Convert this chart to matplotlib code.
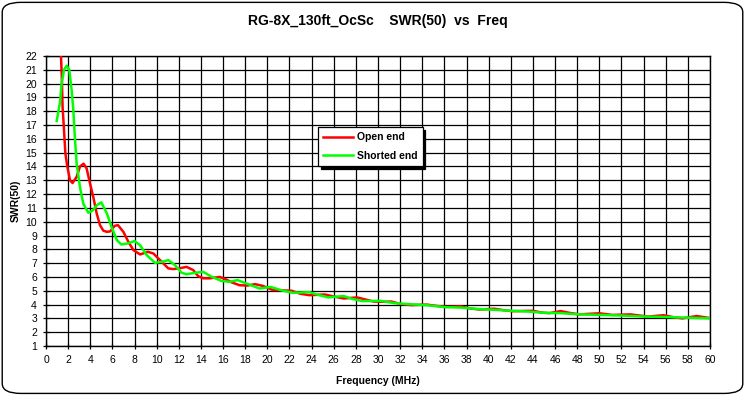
import numpy as np
import matplotlib
matplotlib.use("Agg")
import matplotlib.pyplot as plt
from matplotlib.patches import FancyBboxPatch

plt.rcParams['font.family'] = ['Liberation Sans', 'DejaVu Sans']

# Open end (red)
open_f = [1.3, 1.42, 1.5, 1.63, 1.75, 1.93, 2.17, 2.4, 2.77, 3.07, 3.4, 3.67, 3.97, 4.27,
          4.58, 4.88, 5.18, 5.5, 5.8, 6.2, 6.5, 6.99, 7.44, 7.89, 8.5, 9.2, 9.7, 10.45,
          11.05, 11.5, 12.0, 12.7, 13.3, 13.75, 14.2, 14.8, 15.7, 16.2, 16.8, 17.5, 18.2,
          18.9, 19.6, 20.5, 21.1, 22.2, 23.0, 23.8, 25.2, 25.9, 26.9, 28.1, 28.8, 29.6,
          30.5, 31.2, 32.0, 33.0, 34.4, 35.3, 36.2, 37.5, 38.3, 39.2, 40.5, 41.3, 42.1,
          44.0, 44.8, 45.5, 46.5, 47.3, 48.2, 50.0, 51.2, 52.8, 54.4, 55.8, 56.6, 57.5,
          58.8, 60.0]
open_swr = [23.0, 20.7, 18.3, 16.6, 14.95, 13.98, 13.0, 12.8, 13.25, 14.0, 14.2, 13.86, 12.8, 11.8,
            10.6, 9.75, 9.35, 9.27, 9.3, 9.7, 9.75, 9.27, 8.55, 7.95, 7.63, 7.82, 7.7, 7.1,
            6.62, 6.57, 6.62, 6.73, 6.5, 6.06, 5.9, 5.9, 6.0, 5.85, 5.6, 5.4, 5.38,
            5.48, 5.35, 5.05, 5.04, 5.0, 4.78, 4.68, 4.73, 4.6, 4.44, 4.52, 4.38, 4.22,
            4.2, 4.22, 4.05, 3.96, 4.0, 3.9, 3.83, 3.87, 3.72, 3.64, 3.7, 3.6, 3.52,
            3.55, 3.42, 3.38, 3.53, 3.4, 3.29, 3.37, 3.25, 3.29, 3.13, 3.23, 3.1, 3.0,
            3.17, 3.02]

# Shorted end (green)
short_f = [0.97, 1.1, 1.26, 1.41, 1.63, 1.87, 2.1, 2.32, 2.47, 2.6, 2.77, 3.07, 3.37, 3.82,
           4.2, 4.6, 5.0, 5.5, 5.93, 6.4, 6.8, 7.4, 8.0, 8.5, 9.1, 9.85, 10.5, 11.05,
           11.65, 12.26, 12.7, 13.5, 14.2, 15.0, 15.9, 16.6, 17.3, 18.2, 19.3, 20.3,
           21.2, 22.3, 23.8, 24.6, 25.5, 26.9, 27.7, 28.6, 30.2, 31.5, 33.0, 34.5, 36.0,
           37.5, 39.0, 40.5, 42.0, 43.5, 45.0, 46.5, 48.0, 50.0, 51.5, 53.0, 54.5, 56.0,
           58.0, 60.0]
short_swr = [17.3, 17.9, 18.6, 20.0, 21.0, 21.3, 21.0, 19.5, 18.1, 16.2, 14.2, 12.5, 11.3, 10.65,
             10.8, 11.2, 11.4, 10.6, 9.6, 8.67, 8.35, 8.43, 8.6, 8.3, 7.58, 7.02, 7.1, 7.22,
             6.86, 6.3, 6.2, 6.3, 6.37, 6.0, 5.7, 5.65, 5.77, 5.5, 5.16, 5.28,
             5.05, 4.85, 4.9, 4.7, 4.52, 4.62, 4.4, 4.25, 4.27, 4.1, 4.02, 3.95, 3.82,
             3.78, 3.68, 3.62, 3.55, 3.5, 3.4, 3.38, 3.3, 3.25, 3.22, 3.17, 3.12, 3.1,
             3.05, 3.0]

fig = plt.figure(figsize=(7.45, 3.95), dpi=100)
fig.patch.set_facecolor('white')
fig.patches.append(FancyBboxPatch((0.003, 0.004), 0.994, 0.99, boxstyle='round,pad=0,rounding_size=0.025',
                                  transform=fig.transFigure, fill=False, edgecolor='black', linewidth=1.0))

ax = fig.add_axes([46 / 745, 1 - 346 / 395, 664 / 745, 290 / 395])
ax.plot(open_f, open_swr, color='#ff0000', lw=1.8, label='Open end', zorder=3)
ax.plot(short_f, short_swr, color='#00ff00', lw=1.8, label='Shorted end', zorder=4)

ax.set_xlim(0, 60)
ax.set_ylim(1, 22)
ax.set_xticks(np.arange(0, 61, 2))
ax.set_yticks(np.arange(1, 23, 1))
ax.grid(True, color='black', lw=0.9)
ax.tick_params(direction='inout', length=5, width=0.9, labelsize=7.5, pad=4)
for s in ax.spines.values():
    s.set_linewidth(1.0)

ax.set_title('RG-8X_130ft_OcSc    SWR(50)  vs  Freq', fontsize=10, fontweight='bold', pad=22)
ax.set_xlabel('Frequency (MHz)', fontsize=7.5, fontweight='bold', labelpad=8)
ax.set_ylabel('SWR(50)', fontsize=7.5, fontweight='bold', labelpad=3)

leg = ax.legend(loc='upper left', bbox_to_anchor=(0.41, 0.755), frameon=True, fancybox=False,
                shadow={'color': 'black', 'alpha': 1.0}, edgecolor='black', framealpha=1,
                prop={'size': 7.5, 'weight': 'bold'}, handlelength=2.8, borderpad=0.5,
                labelspacing=0.8, handletextpad=0.4, borderaxespad=0)
leg.get_frame().set_linewidth(0.9)

fig.savefig('out.png', dpi=100)
